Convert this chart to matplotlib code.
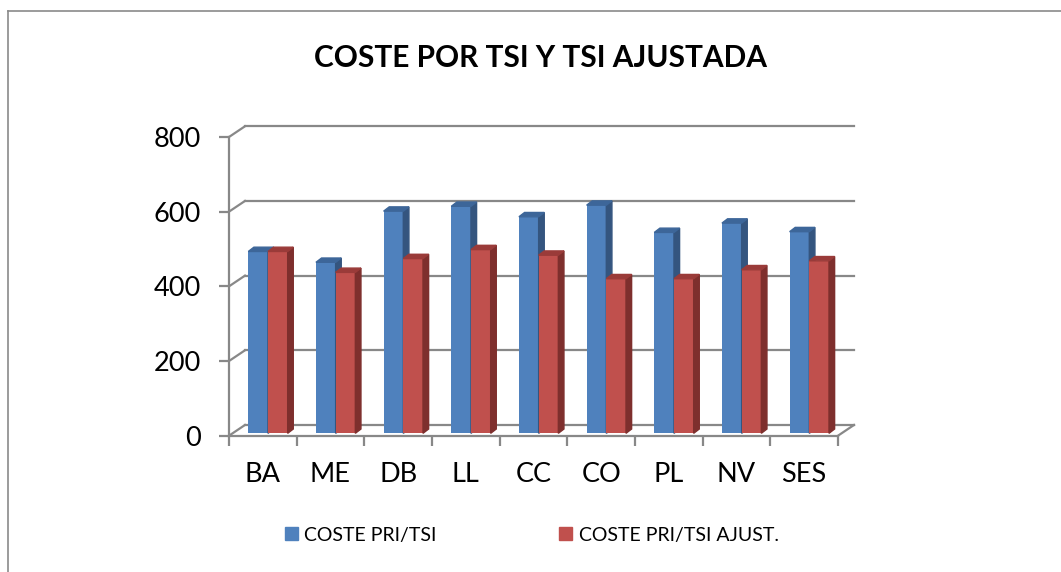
import matplotlib.pyplot as plt
from matplotlib.patches import Polygon, Patch
from matplotlib.lines import Line2D

plt.rcParams['font.family'] = ['Lato', 'DejaVu Sans']

# data
categories = ['BA', 'ME', 'DB', 'LL', 'CC', 'CO', 'PL', 'NV', 'SES']
coste_tsi = [487, 458, 595, 608, 580, 611, 538, 563, 540]
coste_tsi_ajust = [487, 431, 468, 492, 477, 414, 414, 438, 462]
yticks = [0, 200, 400, 600, 800]
series_names = ['COSTE PRI/TSI', 'COSTE PRI/TSI AJUST.']

blue = '#4F81BD'
blue_side = '#34557F'
blue_top = '#3D6699'
red = '#C0504D'
red_side = '#7E2F2D'
red_top = '#9A3B39'
grid_col = '#888888'

W, H = 1061, 572
fig = plt.figure(figsize=(W / 100, H / 100), dpi=100)

# front plane of the 3d box
ax = fig.add_axes([229 / W, 1 - 435.7 / H, (838 - 229) / W, (435.7 - 137) / H])
ax.set_xlim(0, len(categories))
ax.set_ylim(0, 800)
ax.patch.set_visible(False)

# depth of the box (back wall offset) in data units
dx, dy = 0.236, 28.7
# bar placement / depth
ox, oy = 0.053, 6.4
bw = 0.291
bdx, bdy = 0.083, 11.5

# back wall gridlines + left wall diagonals
n = len(categories)
for v in yticks:
    ax.plot([dx, n + dx], [v + dy, v + dy], color=grid_col, lw=1.6, clip_on=False, zorder=1)
    ax.plot([0, dx], [v, v + dy], color=grid_col, lw=1.6, clip_on=False, zorder=1)
ax.plot([n, n + dx], [0, dy], color=grid_col, lw=1.6, clip_on=False, zorder=1)


def draw_bars(xs, vals, front, side, top, z):
    rects = ax.bar(xs, vals, width=bw, bottom=oy, align='edge', color=front,
                   zorder=z, clip_on=False)
    for r in rects:
        x0, y0 = r.get_x(), r.get_y()
        x1, y1 = x0 + r.get_width(), y0 + r.get_height()
        ax.add_patch(Polygon([(x1, y0), (x1 + bdx, y0 + bdy), (x1 + bdx, y1 + bdy), (x1, y1)],
                             closed=True, color=side, zorder=z, clip_on=False))
        ax.add_patch(Polygon([(x0, y1), (x0 + bdx, y1 + bdy), (x1 + bdx, y1 + bdy), (x1, y1)],
                             closed=True, color=top, zorder=z, clip_on=False))


idx = list(range(n))
draw_bars([i + 0.232 + ox for i in idx], coste_tsi, blue, blue_side, blue_top, 3)
draw_bars([i + 0.523 + ox for i in idx], coste_tsi_ajust, red, red_side, red_top, 4)

# axes lines and ticks
for s in ['top', 'right']:
    ax.spines[s].set_visible(False)
for s in ['left', 'bottom']:
    ax.spines[s].set_color(grid_col)
    ax.spines[s].set_linewidth(1.6)
    ax.spines[s].set_zorder(2)

ax.set_yticks(yticks)
ax.set_yticklabels([str(v) for v in yticks], fontsize=19.5)
ax.tick_params(axis='y', length=7, width=1.6, color=grid_col, pad=13)

ax.set_xticks([i + 0.5 for i in idx])
ax.set_xticklabels(categories, fontsize=19.5)
ax.set_xticks(list(range(n + 1)), minor=True)
ax.tick_params(axis='x', which='major', length=0, pad=19)
ax.tick_params(axis='x', which='minor', length=7, width=1.6, color=grid_col)

# title
fig.text(540 / W, 1 - 58 / H, 'COSTE POR TSI Y TSI AJUSTADA', ha='center', va='center',
         fontsize=21.5, fontweight='bold')

# legend
handles = [Patch(color=blue), Patch(color=red)]
fig.legend(handles, series_names, loc='center left', bbox_to_anchor=(285 / W, 1 - 535 / H),
           ncol=2, frameon=False, fontsize=14, handlelength=0.65, handleheight=0.65,
           handletextpad=0.35, columnspacing=6.3, borderpad=0, borderaxespad=0)

# chart border (only left and top edges are inside the picture)
fig.add_artist(Line2D([7.5 / W, 7.5 / W], [0, 1 - 11 / H], color='#8a8a8a', lw=1.2))
fig.add_artist(Line2D([7.5 / W, 1], [1 - 11 / H, 1 - 11 / H], color='#8a8a8a', lw=1.2))

fig.savefig('out.png', dpi=100)
